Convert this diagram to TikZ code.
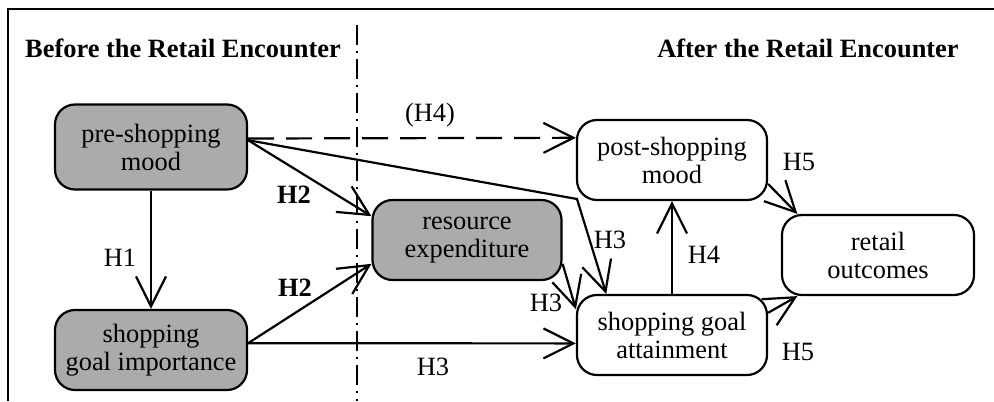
\documentclass[tikz,border=0pt]{standalone}
\usepackage{fontspec}
\setmainfont{Liberation Serif}
\usetikzlibrary{arrows.meta}
\begin{document}
\begin{tikzpicture}[x=0.5pt,y=-0.5pt,
  font=\fontsize{13.2}{14}\selectfont,
  box/.style={draw, line width=1.1pt, rounded corners=10pt, align=center,
    minimum width=95pt, minimum height=40pt, inner sep=2pt},
  shaded/.style={box, fill=black!33},
  link/.style={line width=1.1pt, -{Straight Barb[length=15pt,width=15pt,line width=1.1pt]}},
  lbl/.style={inner sep=1pt},
  heading/.style={font=\fontsize{13.2}{14}\selectfont\bfseries, anchor=base}]
\useasboundingbox (0,0) rectangle (994,401);
% frame and the dividing line between the two phases
\draw[line width=1.2pt] (994,9) -- (8,9) -- (8,401);
\draw[line width=0.7pt, dash pattern=on 10pt off 3pt on 1pt off 3pt] (357,25) -- (357,401);
\node[heading] (before) at (183,58) {Before the Retail Encounter};
\node[heading] (after) at (808,58) {After the Retail Encounter};
% constructs
\node[shaded, minimum width=96pt, minimum height=42.5pt] (pre) at (151,147) {pre-shopping\\mood};
\node[shaded, minimum width=96pt, minimum height=40pt] (imp) at (151,350) {shopping\\goal importance};
\node[shaded, minimum width=94.5pt] (res) at (467,240) {resource\\expenditure};
\node[box] (post) at (672,160) {post-shopping\\mood};
\node[box] (att) at (672,335) {shopping goal\\attainment};
\node[box, minimum width=96pt] (ret) at (878,255) {retail\\outcomes};
\coordinate (bend) at (577,199);
% hypothesised paths
\draw[link] (pre.south) -- (imp.north);
\draw[link, dash pattern=on 13pt off 6pt] (pre.5) -- (post.167);
\draw[link] (pre.4) -- (res.166);
\draw[link] (pre.4) -- (bend) -- (att.148);
\draw[link] (imp.4) -- (res.194);
\draw[link] (imp.4) -- (att.185);
\draw[link] (res.346) -- (att.165);
\draw[link] (att.north) -- (post.south);
\draw[link] (post.346) -- (ret.153);
\draw[link] (att.13) -- (ret.207);
% labels
\node[lbl] (h1) at (120,258) {H1};
\node[lbl] (h4d) at (430,115) {(H4)};
\node[lbl, font=\fontsize{13.2}{14}\selectfont\bfseries] (h2a) at (294,195) {H2};
\node[lbl, font=\fontsize{13.2}{14}\selectfont\bfseries] (h2b) at (295,288) {H2};
\node[lbl] (h3a) at (610,240) {H3};
\node[lbl] (h3b) at (546,303) {H3};
\node[lbl] (h3c) at (433,367) {H3};
\node[lbl] (h4) at (704,255) {H4};
\node[lbl] (h5a) at (799,162) {H5};
\node[lbl] (h5b) at (798,352) {H5};
\end{tikzpicture}
\end{document}
